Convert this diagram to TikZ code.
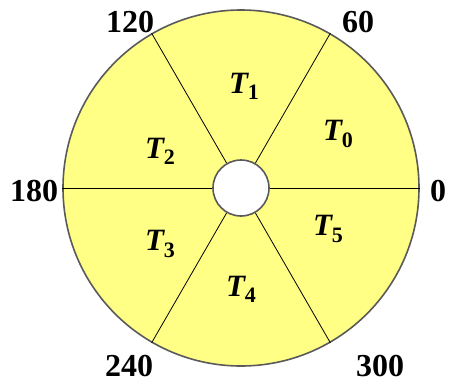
\documentclass[tikz,border=0pt]{standalone}
\usepackage{fontspec}
\setmainfont{Liberation Serif}
\definecolor{diskyellow}{RGB}{255,255,133}
\definecolor{rimgray}{RGB}{90,90,90}
\begin{document}
\begin{tikzpicture}[x=1pt,y=-1pt,
  disk/.style={circle,inner sep=0pt,minimum size=356pt,fill=diskyellow,draw=rimgray,line width=1.6pt},
  hub/.style={circle,inner sep=0pt,minimum size=56pt,fill=white,draw=rimgray,line width=1.6pt},
  spoke/.style={draw=black,line width=0.8pt},
  deg/.style={font=\fontsize{32}{32}\selectfont\bfseries,inner sep=0pt},
  sect/.style={font=\fontsize{31}{31}\selectfont,inner sep=0pt}]
\useasboundingbox (0,0) rectangle (453,389);
\newcommand{\tsub}[1]{{\bfseries\itshape T}\raisebox{-0.2em}{\fontsize{22}{22}\selectfont\bfseries #1}}
\node[disk] (outer) at (241,188) {};
\foreach \a in {0,60,120,180,240,300}{
  \coordinate (o\a) at (outer.\a);
}
\node[hub,draw=none,fill=none] (hubpos) at (241,188) {};
\foreach \a in {0,60,120,180,240,300}{
  \draw[spoke] (hubpos.\a) -- (o\a);
}
\node[hub] (inner) at (241,188) {};
\node[sect] (t1) at (244,86) {\tsub{1}};
\node[sect] (t0) at (338,134) {\tsub{0}};
\node[sect] (t2) at (160,151) {\tsub{2}};
\node[sect] (t3) at (160,244) {\tsub{3}};
\node[sect] (t4) at (241,289) {\tsub{4}};
\node[sect] (t5) at (328,229) {\tsub{5}};
\node[deg] (d120) at (130,22) {120};
\node[deg] (d60) at (358,22) {60};
\node[deg] (d180) at (34,191) {180};
\node[deg] (d0) at (438,191) {0};
\node[deg] (d240) at (129,366) {240};
\node[deg] (d300) at (380,366) {300};
\end{tikzpicture}
\end{document}
